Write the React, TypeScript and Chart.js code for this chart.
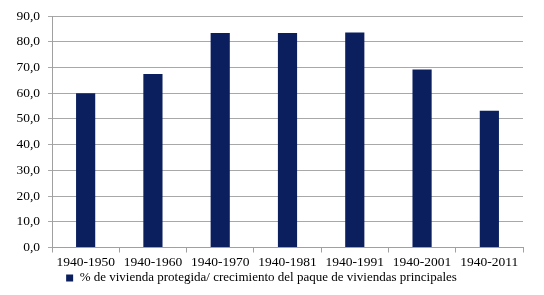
import React, { useEffect, useRef } from "react";
import { Chart, registerables } from "chart.js";

Chart.register(...registerables);

const categories = ["1940-1950", "1940-1960", "1940-1970", "1940-1981", "1940-1991", "1940-2001", "1940-2011"];
const values = [60.0, 67.5, 83.4, 83.4, 83.6, 69.2, 53.2];
const seriesLabel = "% de vivienda protegida/ crecimiento del paque de viviendas principales";
const yMin = 0;
const yMax = 90;
const yStep = 10;

export default function App() {
  const ref = useRef<HTMLCanvasElement | null>(null);

  useEffect(() => {
    document.body.style.margin = "0";
    let chart: Chart | null = null;
    let cancelled = false;
    const family = '"Liberation Serif", "Times New Roman", serif';
    const build = () => {
      if (cancelled || !ref.current) return;
      const font = { family, size: 13.5 };
      const legendFont = { family, size: 13 };
      chart = new Chart(ref.current, {
        type: "bar",
        data: {
          labels: categories,
          datasets: [
            {
              label: seriesLabel,
              data: values,
              backgroundColor: "#0b1f5e",
              borderWidth: 0,
              barPercentage: 0.285,
              categoryPercentage: 1,
            },
          ],
        },
        options: {
          animation: false,
          responsive: false,
          devicePixelRatio: 1,
          layout: { padding: { top: 8.5, right: 21, left: 0, bottom: 0.5 } },
          plugins: {
            tooltip: { enabled: false },
            legend: {
              position: "bottom",
              labels: {
                font: legendFont,
                color: "#000",
                boxWidth: 7,
                boxHeight: 7,
                padding: 4,
              },
            },
          },
          scales: {
            x: {
              offset: true,
              grid: {
                display: true,
                drawOnChartArea: false,
                offset: true,
                tickLength: 5,
                color: "#a0a0a0",
              },
              border: { color: "#a0a0a0" },
              ticks: { font, color: "#000", padding: 2, maxRotation: 0, autoSkip: false },
              afterFit: (s: any) => {
                s.height = 20;
              },
            },
            y: {
              min: yMin,
              max: yMax,
              grid: { color: "#a8a8a8", tickLength: 4 },
              border: { color: "#a0a0a0" },
              ticks: {
                stepSize: yStep,
                font,
                color: "#000",
                padding: 8,
                callback: (v: any) => Number(v).toFixed(1).replace(".", ","),
              },
              afterFit: (s: any) => {
                s.width = 52;
              },
            },
          },
        },
      });
    };
    const fontsApi = (document as any).fonts;
    if (fontsApi && fontsApi.load) {
      fontsApi.load('13px "Liberation Serif"').then(build, build);
    } else {
      build();
    }
    return () => {
      cancelled = true;
      if (chart) chart.destroy();
    };
  }, []);

  return (
    <div style={{ position: "absolute", left: 0, top: 0, width: 544, height: 295, background: "#fff" }}>
      <canvas ref={ref} width={544} height={295} style={{ width: 544, height: 295 }} />
    </div>
  );
}
